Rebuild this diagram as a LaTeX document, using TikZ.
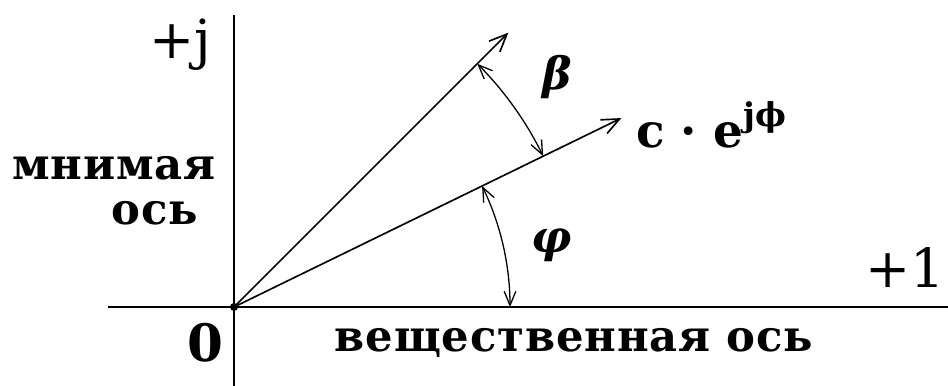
\documentclass[tikz,border=0pt]{standalone}
\usepackage{fontspec}
\setmainfont{DejaVu Serif}
\newfontfamily\cyrfont[LetterSpace=2]{DejaVu Serif}
\usetikzlibrary{arrows.meta}
\tikzset{axis/.style={line width=2.2pt},
  vec/.style={line width=1.4pt,-{Straight Barb[length=15pt,width=13pt]}},
  angarc/.style={line width=1.1pt,{Straight Barb[length=12pt,width=10pt]}-{Straight Barb[length=12pt,width=10pt]}},
  lbl/.style={font=\fontsize{46}{46}\selectfont},
  greek/.style={font=\bfseries\itshape\fontsize{38}{38}\selectfont},
  cyr/.style={font=\cyrfont\bfseries\fontsize{37}{37}\selectfont}}

\begin{document}
\begin{tikzpicture}[x=0.3mm,y=0.3mm]
  \useasboundingbox (-234,-79) rectangle (714,307);
  % axes
  \coordinate (xl) at (-126,0); \coordinate (xr) at (714,0);
  \coordinate (yb) at (0,-79); \coordinate (yt) at (0,292);
  \draw[axis] (xl) -- (xr); \draw[axis] (yb) -- (yt);
  % vectors
  \coordinate (O) at (0,0);
  \coordinate (A) at (45:388); \coordinate (C) at (26:431);
  \draw[vec] (O) -- (A); \draw[vec] (O) -- (C);
  \fill (O) circle (4);
  % angles
  \coordinate (phiS) at (0:276); \coordinate (betS) at (26:344);
  \draw[angarc] (phiS) arc[start angle=0,end angle=26,radius=276];
  \draw[angarc] (betS) arc[start angle=26,end angle=45,radius=344];
  \node[greek] (phi) at (318,62) {φ};
  \node[greek] (beta) at (323,230) {β};
  % labels
  \node[lbl,anchor=west,font=\bfseries\fontsize{40}{40}\selectfont] (vecl) at (398,182) {c · e\raisebox{0.45em}{\fontsize{28}{28}\selectfont jϕ}};
  \node[lbl] (plus1) at (671,39) {+1};
  \node[lbl] (plusj) at (-54,262) {+j};
  \node[lbl,font=\bfseries\fontsize{44}{44}\selectfont] (zero) at (-29,-36) {0};
  \node[cyr] (im1) at (-120,139) {мнимая};
  \node[cyr] (im2) at (-79,94) {ось};
  \node[cyr] (re) at (340,-36) {вещественная ось};
\end{tikzpicture}
\end{document}
